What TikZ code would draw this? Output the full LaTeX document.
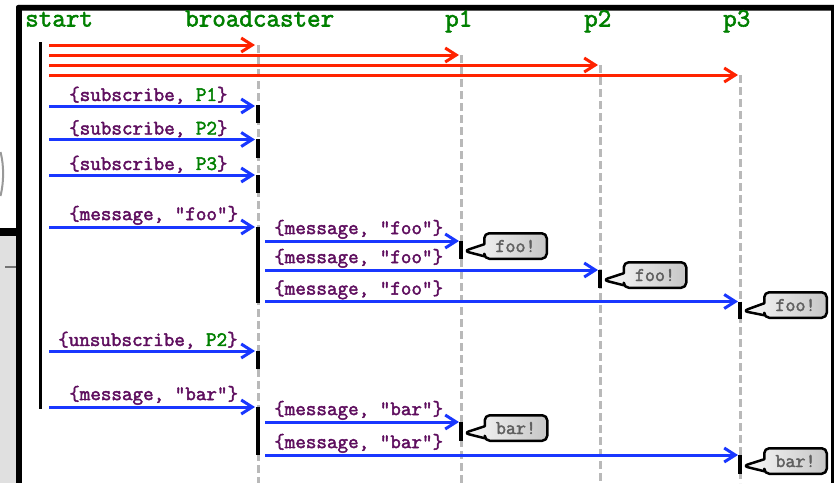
\documentclass[tikz,border=0pt]{standalone}
\usepackage{fontspec}
\newfontfamily\cour{Latin Modern Mono}[FakeBold=2.2]
\usetikzlibrary{arrows.meta,shapes.callouts}
\definecolor{hdrgreen}{RGB}{0,128,0}
\definecolor{lblpurple}{RGB}{95,15,95}
\definecolor{msgblue}{RGB}{25,55,255}
\definecolor{msgred}{RGB}{255,35,0}
\definecolor{llgrey}{RGB}{185,185,185}
\definecolor{bubtext}{RGB}{95,95,95}
\definecolor{outgrey}{RGB}{224,224,224}
\tikzset{
  hdr/.style={anchor=base west, inner sep=0pt, text=hdrgreen, font=\cour\fontsize{26.3}{28}\selectfont},
  lbl/.style={anchor=south west, inner sep=0pt, text=lblpurple, font=\cour\fontsize{20.5}{22}\selectfont},
  lifeline/.style={draw=llgrey, line width=3pt, dash pattern=on 8pt off 4pt},
  startline/.style={draw=black, line width=3pt},
  actbar/.style={draw=black, line width=3.5pt},
  redmsg/.style={draw=msgred, line width=3pt, -{Straight Barb[length=11pt,width=14pt]}},
  bluemsg/.style={draw=msgblue, line width=3pt, -{Straight Barb[length=11pt,width=14pt]}},
  bubble/.style={rectangle callout, rounded corners=5pt, draw=black, line width=2.5pt, line join=round,
    left color=white!96!gray, right color=gray!45, minimum width=62.5pt, minimum height=25.5pt,
    inner sep=0pt, callout pointer width=12pt, text=bubtext,
    font=\cour\fontsize{19.5}{21}\selectfont},
}
\begin{document}
\begin{tikzpicture}[x=1pt,y=-1pt]
\useasboundingbox (0,0) rectangle (834,483);
% background / window surroundings
\fill[white] (0,0) rectangle (834,483);
\fill[outgrey] (0,236) rectangle (16,483);
\fill[black] (0,228) rectangle (16,236);
\draw[gray!80, line width=2pt] (0.5,152) .. controls (4,165) and (4,182) .. (0.5,196);
\draw[gray!90!black, line width=2pt] (5,267) -- (16,267);
\draw[gray!30, line width=1pt] (18,4) -- (834,4);
\fill[black, rounded corners=2pt] (16,5) rectangle (834,10.5);
\fill[black] (16,8) rectangle (21.5,483);
\fill[black] (831,5) rectangle (833.5,483);

% headers
\node[hdr] (hstart) at (25,26.5) {start};
\node[hdr] (hbc) at (185,26.5) {broadcaster};
\node[hdr] (hp1) at (445,26.5) {p1};
\node[hdr] (hp2) at (584,26.5) {p2};
\node[hdr] (hp3) at (723,26.5) {p3};

% lifelines
\coordinate (st0) at (40,42);  \coordinate (st1) at (40,409);
\coordinate (bc0) at (258,45); \coordinate (bc1) at (258,483);
\coordinate (pa0) at (461,55); \coordinate (pa1) at (461,483);
\coordinate (pb0) at (600,65); \coordinate (pb1) at (600,483);
\coordinate (pc0) at (740,75); \coordinate (pc1) at (740,483);
\draw[startline] (st0) -- (st1);
\draw[lifeline] (bc0) -- (bc1);
\draw[lifeline] (pa0) -- (pa1);
\draw[lifeline] (pb0) -- (pb1);
\draw[lifeline] (pc0) -- (pc1);

% spawn arrows
\coordinate (r1s) at (49,45); \coordinate (r1e) at (255,45);
\coordinate (r2s) at (49,55); \coordinate (r2e) at (459,55);
\coordinate (r3s) at (49,65); \coordinate (r3e) at (598,65);
\coordinate (r4s) at (49,75); \coordinate (r4e) at (738,75);
\draw[redmsg] (r1s) -- (r1e);
\draw[redmsg] (r2s) -- (r2e);
\draw[redmsg] (r3s) -- (r3e);
\draw[redmsg] (r4s) -- (r4e);

% activation bars on broadcaster
\coordinate (ab1s) at (258,105);   \coordinate (ab1e) at (258,123);
\coordinate (ab2s) at (258,139);   \coordinate (ab2e) at (258,158);
\coordinate (ab3s) at (258,175);   \coordinate (ab3e) at (258,193);
\coordinate (ab4s) at (258,226.5); \coordinate (ab4e) at (258,303);
\coordinate (ab5s) at (258,350.5); \coordinate (ab5e) at (258,369);
\coordinate (ab6s) at (258,406.5); \coordinate (ab6e) at (258,455);
\foreach \i in {1,...,6} {\draw[actbar] (ab\i s) -- (ab\i e);}

% activation bars on processes
\coordinate (aa1s) at (461,241);   \coordinate (aa1e) at (461,259);
\coordinate (aa2s) at (600,270);   \coordinate (aa2e) at (600,288);
\coordinate (aa3s) at (740,301.5); \coordinate (aa3e) at (740,319);
\coordinate (aa4s) at (461,422);   \coordinate (aa4e) at (461,441);
\coordinate (aa5s) at (740,455);   \coordinate (aa5e) at (740,474);
\foreach \i in {1,...,5} {\draw[actbar] (aa\i s) -- (aa\i e);}

% messages to broadcaster
\coordinate (m1s) at (49,106);   \coordinate (m1e) at (255,106);
\coordinate (m2s) at (49,139.5); \coordinate (m2e) at (255,139.5);
\coordinate (m3s) at (49,175);   \coordinate (m3e) at (255,175);
\coordinate (m4s) at (49,227);   \coordinate (m4e) at (255,227);
\coordinate (m5s) at (49,351);   \coordinate (m5e) at (255,351);
\coordinate (m6s) at (49,407);   \coordinate (m6e) at (255,407);
\foreach \i in {1,...,6} {\draw[bluemsg] (m\i s) -- (m\i e);}
\node[lbl] (l1) at (69,104) {\{subscribe, \textcolor{hdrgreen}{P1}\}};
\node[lbl] (l2) at (69,137.5) {\{subscribe, \textcolor{hdrgreen}{P2}\}};
\node[lbl] (l3) at (69,173) {\{subscribe, \textcolor{hdrgreen}{P3}\}};
\node[lbl] (l4) at (69,225) {\{message, "foo"\}};
\node[lbl] (l5) at (58,349) {\{unsubscribe, \textcolor{hdrgreen}{P2}\}};
\node[lbl] (l6) at (69,405) {\{message, "bar"\}};

% forwarded messages
\coordinate (f1s) at (265,241);   \coordinate (f1e) at (459,241);
\coordinate (f2s) at (265,270);   \coordinate (f2e) at (598,270);
\coordinate (f3s) at (265,301.5); \coordinate (f3e) at (738,301.5);
\coordinate (f4s) at (265,422);   \coordinate (f4e) at (459,422);
\coordinate (f5s) at (265,455);   \coordinate (f5e) at (738,455);
\foreach \i in {1,...,5} {\draw[bluemsg] (f\i s) -- (f\i e);}
\node[lbl] (fl1) at (274,239) {\{message, "foo"\}};
\node[lbl] (fl2) at (274,268) {\{message, "foo"\}};
\node[lbl] (fl3) at (274,299.5) {\{message, "foo"\}};
\node[lbl] (fl4) at (274,420) {\{message, "bar"\}};
\node[lbl] (fl5) at (274,453) {\{message, "bar"\}};

% speech bubbles
\coordinate (t1) at (464,251);
\coordinate (t2) at (603,280);
\coordinate (t3) at (743,311);
\coordinate (t4) at (464,433);
\coordinate (t5) at (743,466);
\node[bubble, callout absolute pointer={(t1)}] (bb1) at (515.5,246) {foo!};
\node[bubble, callout absolute pointer={(t2)}] (bb2) at (655,275) {foo!};
\node[bubble, callout absolute pointer={(t3)}] (bb3) at (795.5,305) {foo!};
\node[bubble, callout absolute pointer={(t4)}] (bb4) at (516,428) {bar!};
\node[bubble, callout absolute pointer={(t5)}] (bb5) at (795.5,461) {bar!};
\end{tikzpicture}
\end{document}
